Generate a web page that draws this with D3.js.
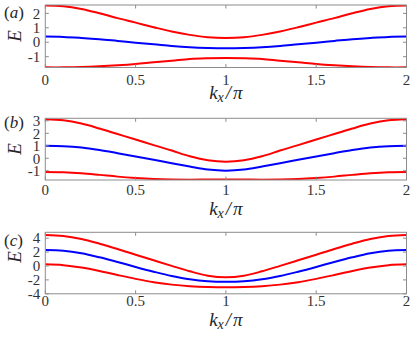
<!DOCTYPE html>
<html>
<head>
<meta charset="utf-8">
<script src="https://cdn.jsdelivr.net/npm/d3@7"></script>
<style>
  body { margin: 0; background: #fff; }
  svg { display: block; }
  .frame { fill: none; stroke: #8c8c8c; stroke-width: 1; }
  .tick-line { stroke: #8c8c8c; stroke-width: 1; }
  .tick-label { font-family: "Liberation Serif", "Times New Roman", "DejaVu Serif", serif; font-size: 15px; fill: #333; }
  .axis-label { font-family: "Liberation Serif", "Times New Roman", "DejaVu Serif", serif; font-size: 19px; fill: #262626; font-style: italic; }
  .panel-label { font-family: "Liberation Serif", "Times New Roman", "DejaVu Serif", serif; font-size: 17px; fill: #262626; }
  .band { fill: none; stroke-width: 2; }
</style>
</head>
<body>
<script>
// k_x / pi sample points
const kx = [0, 0.1, 0.2, 0.3, 0.4, 0.5, 0.6, 0.7, 0.8, 0.9, 1,
            1.1, 1.2, 1.3, 1.4, 1.5, 1.6, 1.7, 1.8, 1.9, 2];
const xTicks = [0, 0.5, 1, 1.5, 2];

// panel (a)
const aUpper = [2.54, 2.50, 2.31, 2.01, 1.67, 1.36, 1.04, 0.74, 0.51, 0.35, 0.30,
                0.35, 0.51, 0.74, 1.04, 1.36, 1.67, 2.01, 2.31, 2.50, 2.54];
const aMiddle = [0.39, 0.37, 0.30, 0.21, 0.09, -0.03, -0.14, -0.26, -0.35, -0.40, -0.42,
                 -0.40, -0.35, -0.26, -0.14, -0.03, 0.09, 0.21, 0.30, 0.37, 0.39];
const aLower = [-1.74, -1.74, -1.72, -1.67, -1.60, -1.51, -1.39, -1.28, -1.16, -1.11, -1.09,
                -1.11, -1.16, -1.28, -1.39, -1.51, -1.60, -1.67, -1.72, -1.74, -1.74];
const aTicks = [-1, 0, 1, 2];

// panel (b)
const bUpper = [3.12, 3.04, 2.78, 2.38, 1.94, 1.50, 1.05, 0.62, 0.16, -0.16, -0.27,
                -0.16, 0.16, 0.62, 1.05, 1.50, 1.94, 2.38, 2.78, 3.04, 3.12];
const bMiddle = [1.00, 0.97, 0.86, 0.66, 0.41, 0.15, -0.12, -0.40, -0.66, -0.90, -0.99,
                 -0.90, -0.66, -0.40, -0.12, 0.15, 0.41, 0.66, 0.86, 0.97, 1.00];
const bLower = [-1.10, -1.12, -1.20, -1.33, -1.47, -1.58, -1.66, -1.70, -1.71, -1.70, -1.69,
                -1.70, -1.71, -1.70, -1.66, -1.58, -1.47, -1.33, -1.20, -1.12, -1.10];
const bTicks = [-1, 0, 1, 2, 3];

// panel (c)
const cUpper = [4.46, 4.32, 3.88, 3.21, 2.45, 1.63, 0.82, 0.02, -0.76, -1.40, -1.63,
                -1.40, -0.76, 0.02, 0.82, 1.63, 2.45, 3.21, 3.88, 4.32, 4.46];
const cMiddle = [2.30, 2.20, 1.83, 1.25, 0.58, -0.14, -0.82, -1.44, -1.92, -2.20, -2.28,
                 -2.20, -1.92, -1.44, -0.82, -0.14, 0.58, 1.25, 1.83, 2.20, 2.30];
const cLower = [0.24, 0.12, -0.22, -0.72, -1.30, -1.85, -2.33, -2.68, -2.90, -3.02, -3.06,
                -3.02, -2.90, -2.68, -2.33, -1.85, -1.30, -0.72, -0.22, 0.12, 0.24];
const cTicks = [-4, -2, 0, 2, 4];

const width = 415, height = 342;
const left = 45.3, right = 406.5;
const tickLen = 3.5;

// layout of the three stacked panels
const panels = [
  { tag: 'a', top: 5, bottom: 67.5, yDomain: [-1.75, 2.58], ticks: aTicks,
    bands: [aUpper, aMiddle, aLower], xTickDy: 17, xLabelDy: 31, eY: 36, tagY: 18 },
  { tag: 'b', top: 118.3, bottom: 180, yDomain: [-1.74, 3.2], ticks: bTicks,
    bands: [bUpper, bMiddle, bLower], xTickDy: 15, xLabelDy: 35, eY: 149, tagY: 128 },
  { tag: 'c', top: 232.3, bottom: 293.8, yDomain: [-4, 4.85], ticks: cTicks,
    bands: [cUpper, cMiddle, cLower], xTickDy: 12.5, xLabelDy: 32, eY: 257, tagY: 246 }
];
const bandColors = ['#ff0000', '#0000ff', '#ff0000'];

const svg = d3.select('body').append('svg')
  .attr('width', width)
  .attr('height', height);

const x = d3.scaleLinear().domain([0, 2]).range([left, right]);

const drawPanel = (p) => {
  const y = d3.scaleLinear().domain(p.yDomain).range([p.bottom, p.top]);
  const g = svg.append('g').attr('class', `panel panel-${p.tag}`);

  // clip so the thick lines stay in the box
  const clipId = `clip-${p.tag}`;
  g.append('clipPath').attr('id', clipId)
    .append('rect')
      .attr('x', left).attr('y', p.top)
      .attr('width', right - left).attr('height', p.bottom - p.top);

  const line = d3.line()
    .x((d, i) => x(kx[i]))
    .y(d => y(d))
    .curve(d3.curveCatmullRom);

  g.append('g').attr('clip-path', `url(#${clipId})`)
    .selectAll('path')
    .data(p.bands)
    .enter()
    .append('path')
      .attr('class', 'band')
      .attr('d', line)
      .style('stroke', (d, i) => bandColors[i]);

  // frame
  g.append('rect')
    .attr('class', 'frame')
    .attr('x', left).attr('y', p.top)
    .attr('width', right - left).attr('height', p.bottom - p.top);

  // x ticks, inward on bottom and top
  xTicks.forEach(t => {
    g.append('line').attr('class', 'tick-line')
      .attr('x1', x(t)).attr('x2', x(t))
      .attr('y1', p.bottom).attr('y2', p.bottom - tickLen);
    g.append('line').attr('class', 'tick-line')
      .attr('x1', x(t)).attr('x2', x(t))
      .attr('y1', p.top).attr('y2', p.top + tickLen);
    g.append('text').attr('class', 'tick-label')
      .attr('x', x(t)).attr('y', p.bottom + p.xTickDy)
      .attr('text-anchor', 'middle')
      .text(t);
  });

  // y ticks, inward on left and right
  p.ticks.forEach(t => {
    g.append('line').attr('class', 'tick-line')
      .attr('x1', left).attr('x2', left + tickLen)
      .attr('y1', y(t)).attr('y2', y(t));
    g.append('line').attr('class', 'tick-line')
      .attr('x1', right).attr('x2', right - tickLen)
      .attr('y1', y(t)).attr('y2', y(t));
    g.append('text').attr('class', 'tick-label')
      .attr('x', left - 5).attr('y', y(t))
      .attr('dy', '0.35em')
      .attr('text-anchor', 'end')
      .text(t);
  });

  // x label  k_x / pi
  const xl = g.append('text').attr('class', 'axis-label')
    .attr('x', x(1)).attr('y', p.bottom + p.xLabelDy)
    .attr('text-anchor', 'middle');
  xl.append('tspan').text('k');
  xl.append('tspan').attr('font-size', '14px').attr('dy', 3).text('x');
  xl.append('tspan').attr('dy', -3).attr('dx', 2).text('/');
  xl.append('tspan').attr('dx', 2).text('π');

  // y label
  g.append('text').attr('class', 'axis-label')
    .attr('transform', `translate(14,${p.eY}) rotate(-90)`)
    .attr('text-anchor', 'middle')
    .attr('dy', '0.35em')
    .text('E');

  // panel tag
  const tg = g.append('text').attr('class', 'panel-label')
    .attr('x', 4).attr('y', p.tagY);
  tg.append('tspan').text('(');
  tg.append('tspan').style('font-style', 'italic').text(p.tag);
  tg.append('tspan').text(')');
};

panels.forEach(drawPanel);
</script>
</body>
</html>
